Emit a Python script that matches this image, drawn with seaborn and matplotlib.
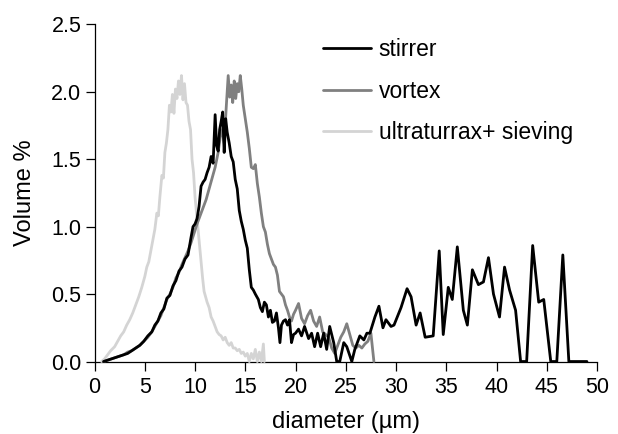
import matplotlib
matplotlib.use("Agg")
import matplotlib.pyplot as plt
import seaborn as sns
import pandas as pd

# ---- data ----
stirrer_x = [0.9, 1.3, 1.7, 2.1, 2.5, 2.9, 3.3, 3.7, 4.1, 4.5, 4.9, 5.3, 5.7, 6.0, 6.3, 6.6, 6.9, 7.2, 7.5, 7.8,
             8.1, 8.4, 8.7, 9.0, 9.3, 9.6, 9.8, 10.0, 10.2, 10.4, 10.6, 10.8, 11.0, 11.2, 11.4, 11.6, 11.8, 12.0,
             12.15, 12.3, 12.45, 12.6, 12.75, 12.9, 13.05, 13.2, 13.4, 13.6, 13.8, 14.0, 14.2, 14.4, 14.6, 14.8,
             15.0, 15.2, 15.4, 15.6, 15.8, 16.0, 16.3, 16.5, 16.7, 16.9, 17.1, 17.3, 17.5, 17.7, 17.9, 18.1, 18.3,
             18.45, 18.6, 18.8, 19.0, 19.2, 19.4, 19.6, 19.8, 20.0, 20.3, 20.6, 20.9, 21.3, 21.6, 21.9, 22.2, 22.5,
             22.8, 23.1, 23.4, 23.8, 24.1, 24.4, 24.8, 25.1, 25.6, 25.9, 26.4, 26.8, 27.1, 27.4, 27.9, 28.3, 28.7,
             29.0, 29.5, 29.8, 30.5, 31.1, 31.5, 32.0, 32.4, 32.9, 33.7, 34.3, 34.7, 35.2, 35.6, 36.1, 36.7, 37.1,
             37.6, 38.2, 38.7, 39.2, 39.7, 40.3, 40.8, 41.3, 41.9, 42.4, 43.0, 43.6, 44.2, 44.7, 45.4, 46.0, 46.6,
             47.2, 49.0]
stirrer_y = [0.0, 0.01, 0.02, 0.03, 0.04, 0.05, 0.06, 0.08, 0.10, 0.12, 0.15, 0.19, 0.22, 0.27, 0.30, 0.36, 0.39,
             0.47, 0.49, 0.56, 0.60, 0.67, 0.70, 0.76, 0.79, 0.92, 1.00, 1.02, 1.06, 1.15, 1.30, 1.33, 1.35, 1.40,
             1.44, 1.52, 1.47, 1.83, 1.60, 1.56, 1.72, 1.78, 1.85, 1.55, 1.80, 1.70, 1.62, 1.52, 1.48, 1.35, 1.28,
             1.12, 1.04, 0.98, 0.90, 0.84, 0.68, 0.55, 0.53, 0.50, 0.46, 0.40, 0.37, 0.44, 0.42, 0.33, 0.38, 0.29,
             0.30, 0.36, 0.25, 0.14, 0.27, 0.30, 0.31, 0.27, 0.31, 0.14, 0.20, 0.21, 0.24, 0.19, 0.26, 0.17, 0.21,
             0.11, 0.21, 0.11, 0.21, 0.09, 0.26, 0.14, 0.0, 0.0, 0.14, 0.11, 0.0, 0.09, 0.19, 0.16, 0.21, 0.21,
             0.33, 0.41, 0.25, 0.31, 0.26, 0.27, 0.40, 0.54, 0.48, 0.27, 0.36, 0.18, 0.19, 0.82, 0.20, 0.55, 0.46,
             0.85, 0.38, 0.27, 0.68, 0.57, 0.59, 0.77, 0.50, 0.33, 0.70, 0.53, 0.38, 0.0, 0.0, 0.86, 0.44, 0.46,
             0.0, 0.0, 0.79, 0.0, 0.0]

vortex_x = [0.9, 1.3, 1.7, 2.1, 2.5, 2.9, 3.3, 3.7, 4.1, 4.5, 4.9, 5.3, 5.7, 6.0, 6.3, 6.6, 6.9, 7.2, 7.5, 7.8,
            8.1, 8.4, 8.7, 9.0, 9.3, 9.6, 9.9, 10.2, 10.5, 10.8, 11.1, 11.4, 11.7, 12.0, 12.3, 12.5, 12.7, 12.9,
            13.1, 13.3, 13.45, 13.6, 13.75, 13.9, 14.05, 14.2, 14.35, 14.5, 14.65, 14.8, 15.0, 15.2, 15.4, 15.6,
            15.8, 16.0, 16.2, 16.4, 16.6, 16.8, 17.0, 17.2, 17.4, 17.6, 17.8, 18.0, 18.2, 18.4, 18.6, 18.8, 19.0,
            19.2, 19.4, 19.6, 19.8, 20.0, 20.3, 20.6, 20.9, 21.2, 21.5, 21.8, 22.1, 22.4, 22.7, 23.0, 23.3, 23.6,
            23.9, 24.2, 24.5, 24.8, 25.1, 25.4, 25.7, 26.0, 26.3, 26.6, 26.9, 27.2, 27.5, 27.8]
vortex_y = [0.0, 0.01, 0.02, 0.03, 0.04, 0.05, 0.07, 0.08, 0.10, 0.12, 0.15, 0.18, 0.22, 0.26, 0.30, 0.34, 0.40,
            0.46, 0.50, 0.55, 0.62, 0.66, 0.72, 0.77, 0.82, 0.88, 0.95, 1.02, 1.08, 1.14, 1.20, 1.28, 1.36, 1.44,
            1.55, 1.66, 1.72, 1.62, 1.88, 2.12, 1.96, 2.05, 1.92, 2.08, 1.95, 2.06, 2.00, 2.12, 2.02, 1.90, 1.80,
            1.70, 1.58, 1.44, 1.43, 1.46, 1.32, 1.22, 1.10, 1.00, 0.96, 0.87, 0.80, 0.76, 0.72, 0.70, 0.64, 0.52,
            0.50, 0.48, 0.42, 0.38, 0.33, 0.30, 0.35, 0.38, 0.43, 0.32, 0.28, 0.34, 0.38, 0.30, 0.26, 0.33, 0.22,
            0.20, 0.18, 0.10, 0.06, 0.12, 0.18, 0.22, 0.28, 0.20, 0.12, 0.10, 0.12, 0.10, 0.13, 0.15, 0.21, 0.0]

ultra_x = [0.7, 1.0, 1.3, 1.6, 2.0, 2.3, 2.6, 2.9, 3.2, 3.5, 3.8, 4.1, 4.4, 4.7, 5.0, 5.2, 5.4, 5.6, 5.8, 6.0,
           6.2, 6.35, 6.5, 6.7, 6.85, 7.0, 7.15, 7.3, 7.45, 7.6, 7.75, 7.9, 8.05, 8.2, 8.35, 8.5, 8.65, 8.8, 8.95,
           9.1, 9.25, 9.4, 9.55, 9.7, 9.85, 10.0, 10.15, 10.3, 10.45, 10.6, 10.75, 10.9, 11.05, 11.2, 11.4, 11.6,
           11.8, 12.0, 12.2, 12.4, 12.6, 12.8, 13.0, 13.2, 13.4, 13.6, 13.8, 14.0, 14.2, 14.4, 14.6, 14.8, 15.0,
           15.2, 15.4, 15.6, 15.8, 16.0, 16.2, 16.4, 16.6, 16.8, 16.9]
ultra_y = [0.0, 0.02, 0.05, 0.08, 0.11, 0.15, 0.19, 0.22, 0.27, 0.31, 0.36, 0.42, 0.48, 0.55, 0.63, 0.70, 0.74,
           0.82, 0.90, 0.98, 1.10, 1.08, 1.22, 1.38, 1.36, 1.55, 1.62, 1.72, 1.90, 1.85, 1.98, 1.84, 2.02, 1.95,
           2.08, 1.98, 2.12, 1.94, 2.06, 1.92, 1.90, 1.78, 1.72, 1.50, 1.40, 1.22, 1.10, 0.98, 0.86, 0.74, 0.62,
           0.52, 0.48, 0.44, 0.40, 0.33, 0.30, 0.26, 0.22, 0.20, 0.19, 0.16, 0.18, 0.14, 0.12, 0.14, 0.10, 0.10,
           0.08, 0.09, 0.06, 0.07, 0.04, 0.06, 0.0, 0.06, 0.02, 0.09, 0.0, 0.07, 0.0, 0.13, 0.0]

labels = ["stirrer", "vortex", "ultraturrax+ sieving"]
colors = ["#000000", "#808080", "#d4d4d4"]
x_ticks = [0, 5, 10, 15, 20, 25, 30, 35, 40, 45, 50]
y_ticks = [0.0, 0.5, 1.0, 1.5, 2.0, 2.5]

df = pd.concat([
    pd.DataFrame({"diameter": stirrer_x, "volume": stirrer_y, "sample": labels[0]}),
    pd.DataFrame({"diameter": vortex_x, "volume": vortex_y, "sample": labels[1]}),
    pd.DataFrame({"diameter": ultra_x, "volume": ultra_y, "sample": labels[2]}),
], ignore_index=True)

sns.set_theme(style="ticks")
plt.rcParams["font.family"] = ["Liberation Sans", "DejaVu Sans"]
plt.rcParams["text.color"] = "black"
plt.rcParams["axes.labelcolor"] = "black"

fig = plt.figure(figsize=(6.18, 4.34), dpi=100)
ax = fig.add_axes([0.153, 0.167, 0.813, 0.777])

draw_order = [2, 1, 0]
zorders = {0: 3.2, 1: 3.1, 2: 3.0}
for i in draw_order:
    sub = df[df["sample"] == labels[i]]
    sns.lineplot(data=sub, x="diameter", y="volume", color=colors[i], linewidth=2.0,
                 estimator=None, sort=False, ax=ax, label=labels[i], clip_on=False,
                 zorder=zorders[i])

ax.set_xlim(0, 50)
ax.set_ylim(0, 2.5)
ax.set_xticks(x_ticks)
ax.set_xticklabels([str(t) for t in x_ticks])
ax.set_yticks(y_ticks)
ax.set_yticklabels([f"{t:.1f}" for t in y_ticks])
ax.set_xlabel("diameter (µm)", fontsize=17, color="black", labelpad=9)
ax.set_ylabel("Volume %", fontsize=17, color="black", labelpad=11)
ax.tick_params(axis="both", labelsize=15.5, direction="out", length=6.5, width=0.9, colors="black", pad=3)
ax.tick_params(axis="x", pad=5)
for s in ["top", "right"]:
    ax.spines[s].set_visible(False)
for s in ["left", "bottom"]:
    ax.spines[s].set_linewidth(0.9)
    ax.spines[s].set_color("black")

h, l = ax.get_legend_handles_labels()
order = [l.index(lab) for lab in labels]
leg = ax.legend([h[k] for k in order], [l[k] for k in order], loc="upper left",
                bbox_to_anchor=(0.522, 0.912), bbox_transform=fig.transFigure,
                frameon=False, fontsize=16.5, handlelength=2.1, handletextpad=0.35, labelspacing=0.8,
                borderaxespad=0, borderpad=0)
for line in leg.get_lines():
    line.set_linewidth(2.0)
for t in leg.get_texts():
    t.set_color("black")

fig.savefig("out.png", dpi=100)
